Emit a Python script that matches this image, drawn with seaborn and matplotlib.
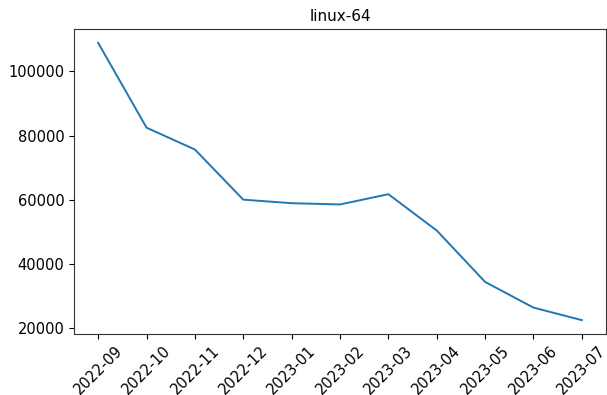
import matplotlib
matplotlib.use("Agg")
import matplotlib.pyplot as plt
import seaborn as sns
import pandas as pd

months = ["2022-09", "2022-10", "2022-11", "2022-12", "2023-01", "2023-02",
          "2023-03", "2023-04", "2023-05", "2023-06", "2023-07"]
downloads = [108900, 82500, 75700, 60100, 59000, 58600,
             61800, 50500, 34500, 26500, 22600]

df = pd.DataFrame({"month": months, "downloads": downloads})

plt.rcParams["font.family"] = ["DejaVu Sans"]
plt.rcParams["font.size"] = 10.5

fig = plt.figure(figsize=(6.07, 3.95), dpi=100)
ax = fig.add_axes([74 / 607, 1 - 334 / 395, 532 / 607, 305 / 395])

sns.lineplot(data=df, x="month", y="downloads", ax=ax, color="#1f77b4",
             linewidth=1.4, sort=False)

ax.set_title("linux-64", fontsize=11)
ax.set_xlabel("")
ax.set_ylabel("")
ax.tick_params(axis="y", labelsize=10.5)
ax.tick_params(axis="x", labelsize=10.5, pad=3.0)
plt.setp(ax.get_xticklabels(), rotation=45)
for s in ax.spines.values():
    s.set_color("#333333")

fig.savefig("out.png", dpi=100)
